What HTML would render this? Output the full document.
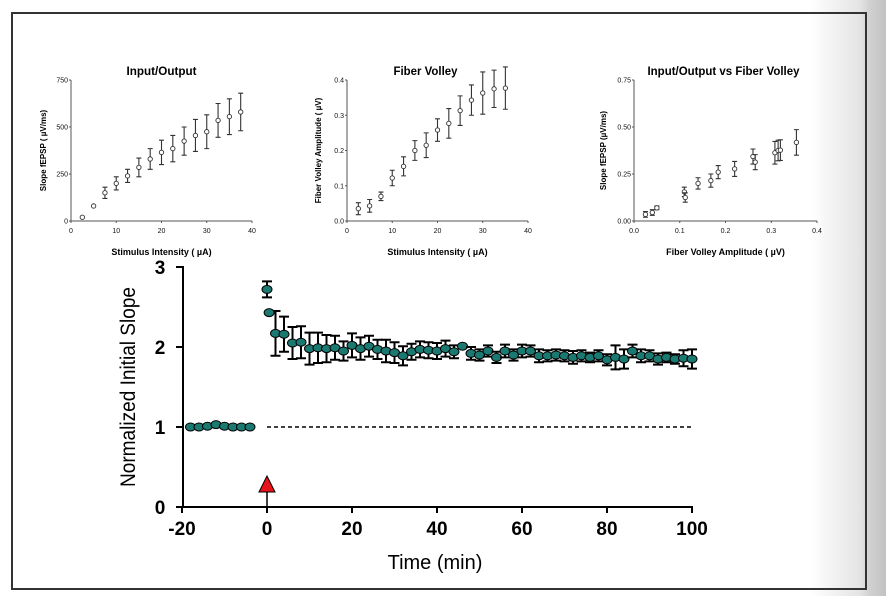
<!DOCTYPE html>
<html><head><meta charset="utf-8"><style>
html,body{margin:0;padding:0;width:886px;height:596px;overflow:hidden;background:linear-gradient(to right,#fff 0px,#fff 810px,#e4e4e4 860px,#d0d0d0 870px,#c2c2c2 886px);}
svg{position:absolute;left:0;top:0;font-family:"Liberation Sans",sans-serif;}
</style></head><body>
<svg id="svg" width="886" height="596">
<rect x="12" y="13" width="854" height="576" fill="none" stroke="#333" stroke-width="2"/>
<g id="c1"></g>
<g id="c2"></g>
<g id="c3"></g>
<g id="main"></g>
</svg>
<script>
// Input/Output
const ioX=[2.5,5,7.5,10,12.5,15,17.5,20,22.5,25,27.5,30,32.5,35,37.5];
const ioY=[20,80,150,200,240,285,330,365,385,425,455,475,535,555,580];
const ioE=[0,0,30,35,35,50,55,65,70,75,85,90,90,95,100];
// Fiber volley
const fvX=[2.5,5,7.5,10,12.5,15,17.5,20,22.5,25,27.5,30,32.5,35];
const fvY=[0.035,0.043,0.07,0.122,0.155,0.2,0.215,0.258,0.277,0.313,0.343,0.363,0.375,0.377];
const fvE=[0.017,0.018,0.012,0.022,0.027,0.028,0.035,0.032,0.042,0.042,0.043,0.06,0.053,0.06];
// IO vs FV
const ivX=[0.025,0.04,0.05,0.11,0.112,0.14,0.168,0.184,0.22,0.26,0.265,0.308,0.315,0.32,0.355];
const ivY=[0.035,0.045,0.07,0.155,0.125,0.2,0.215,0.26,0.277,0.343,0.313,0.363,0.375,0.377,0.418];
const ivE=[0.015,0.015,0.01,0.025,0.025,0.03,0.035,0.035,0.04,0.04,0.04,0.06,0.055,0.055,0.068];
// Main
const baseT=[-18,-16,-14,-12,-10,-8,-6,-4];
const baseV=[1.0,1.0,1.01,1.03,1.01,1.0,1.0,1.0];
const earlyT=[0,0.5];
const earlyV=[2.72,2.43];
const earlyE=[0.1,0];
const postT=[2,4,6,8,10,12,14,16,18,20,22,24,26,28,30,32,34,36,38,40,42,44,46,48,50,52,54,56,58,60,62,64,66,68,70,72,74,76,78,80,82,84,86,88,90,92,94,96,98,100];
const postV=[2.17,2.16,2.05,2.06,1.98,1.99,1.98,1.99,1.95,2.02,1.98,2.01,1.97,1.95,1.93,1.89,1.94,1.97,1.96,1.95,1.98,1.94,2.01,1.92,1.90,1.95,1.87,1.95,1.90,1.95,1.95,1.89,1.89,1.90,1.89,1.87,1.89,1.87,1.89,1.84,1.87,1.85,1.95,1.89,1.89,1.85,1.87,1.85,1.86,1.85];
const postE=[0.28,0.22,0.2,0.2,0.2,0.19,0.17,0.15,0.12,0.15,0.14,0.13,0.12,0.14,0.13,0.12,0.1,0.1,0.1,0.1,0.1,0.08,0.0,0.08,0.07,0.07,0.07,0.08,0.07,0.08,0.07,0.08,0.07,0.07,0.07,0.08,0.07,0.06,0.07,0.07,0.15,0.12,0.08,0.08,0.07,0.07,0.06,0.06,0.1,0.12];
const smallXTicks=[0,10,20,30,40];
const ioYTicks=[0,250,500,750];
const fvYTicks=["0.0","0.1","0.2","0.3","0.4"];
const ivXTicks=["0.0","0.1","0.2","0.3","0.4"];
const ivYTicks=["0.00","0.25","0.50","0.75"];
const mainXTicks=[-20,0,20,40,60,80,100];
const mainYTicks=[0,1,2,3];

const NS="http://www.w3.org/2000/svg";
function mk(p,tag,at,txt){const e=document.createElementNS(NS,tag);for(const k in at)e.setAttribute(k,at[k]);if(txt!==undefined)e.textContent=txt;p.appendChild(e);return e;}

function small(gid,o){
  const g=document.getElementById(gid);
  const sx=v=>o.x0+(v-o.xmin)/(o.xmax-o.xmin)*(o.x1-o.x0);
  const sy=v=>o.y0-(v-o.ymin)/(o.ymax-o.ymin)*(o.y0-o.y1);
  let e=mk(g,'line',{x1:o.x0,y1:o.y0,x2:o.x1,y2:o.y0,stroke:'#555','stroke-width':1});
  
  
  e=mk(g,'line',{x1:o.x0,y1:o.y0,x2:o.x0,y2:o.y1,stroke:'#555','stroke-width':1});
  
  
  o.xt.forEach(t=>{const x=sx(+t);mk(g,'line',{x1:x,y1:o.y0,x2:x,y2:o.y0+2,stroke:'#555'});
    e=mk(g,'text',{x:x,y:o.y0+12,'font-size':7,'text-anchor':'middle',fill:'#111'},t);
    
    });
  o.yt.forEach(t=>{const y=sy(+t);mk(g,'line',{x1:o.x0-2,y1:y,x2:o.x0,y2:y,stroke:'#555'});
    e=mk(g,'text',{x:o.x0-3,y:y+2.5,'font-size':7,'text-anchor':'end',fill:'#111'},t);
    
    });
  e=mk(g,'text',{x:(o.x0+o.x1)/2+o.tdx,y:75,'font-size':11.5,'font-weight':'bold','text-anchor':'middle',textLength:o.tl,lengthAdjust:'spacingAndGlyphs'},o.title);
  
  
  e=mk(g,'text',{x:(o.x0+o.x1)/2,y:255,'font-size':9,'font-weight':'bold','text-anchor':'middle'},o.xl);
  
  
  const cy=(o.y0+o.y1)/2;
  e=mk(g,'text',{x:o.ylx,y:cy,'font-size':8,'font-weight':'bold','text-anchor':'middle',transform:`rotate(-90 ${o.ylx} ${cy})`},o.yl);
  
  
  o.X.forEach((xv,i)=>{const x=sx(xv),y=sy(o.Y[i]),er=o.E[i];
    if(er>0){const a=sy(o.Y[i]+er),b=sy(o.Y[i]-er);
      e=mk(g,'path',{d:`M${x},${a}V${b}M${x-2.5},${a}h5M${x-2.5},${b}h5`,stroke:'#333','stroke-width':1.1,fill:'none'});
      
      }
    e=mk(g,'circle',{cx:x,cy:y,r:2.2,fill:'#fff',stroke:'#333','stroke-width':0.9});
    
    });
}
small('c1',{x0:71,x1:252,y0:221,y1:80,xmin:0,xmax:40,ymin:0,ymax:750,xt:smallXTicks,yt:ioYTicks,X:ioX,Y:ioY,E:ioE,title:'Input/Output',tl:70,tdx:0,xl:'Stimulus Intensity ( µA)',yl:'Slope fEPSP ( µV/ms)',ylx:46});
small('c2',{x0:347,x1:528,y0:221,y1:80,xmin:0,xmax:40,ymin:0,ymax:0.4,xt:smallXTicks,yt:fvYTicks,X:fvX,Y:fvY,E:fvE,title:'Fiber Volley',tl:64,tdx:-12,xl:'Stimulus Intensity ( µA)',yl:'Fiber Volley Amplitude ( µV)',ylx:321});
small('c3',{x0:634,x1:817,y0:221,y1:80,xmin:0,xmax:0.4,ymin:0,ymax:0.75,xt:ivXTicks,yt:ivYTicks,X:ivX,Y:ivY,E:ivE,title:'Input/Output vs Fiber Volley',tl:152,tdx:-2,xl:'Fiber Volley Amplitude ( µV)',yl:'Slope fEPSP (µV/ms)',ylx:606});

// main chart
(function(){
  const g=document.getElementById('main');
  const sx=t=>267+t*4.25, sy=v=>507-v*80;
  let e=mk(g,'line',{x1:183,y1:507,x2:693,y2:507,stroke:'#000','stroke-width':2});
  
  
  e=mk(g,'line',{x1:183,y1:507,x2:183,y2:266,stroke:'#000','stroke-width':2});
  
  
  mainXTicks.forEach(t=>{const x=sx(t);mk(g,'line',{x1:x,y1:507,x2:x,y2:513,stroke:'#000','stroke-width':2});
    e=mk(g,'text',{x:x,y:535,'font-size':19,'font-weight':'bold','text-anchor':'middle'},t);
    
    });
  mainYTicks.forEach(t=>{const y=sy(t);mk(g,'line',{x1:176,y1:y,x2:183,y2:y,stroke:'#000','stroke-width':2});
    e=mk(g,'text',{x:160,y:y+7,'font-size':19,'font-weight':'bold','text-anchor':'middle'},t);
    
    });
  e=mk(g,'text',{x:435,y:569,'font-size':20,'text-anchor':'middle'},'Time (min)');
  
  
  e=mk(g,'text',{x:135,y:387,'font-size':21,'text-anchor':'middle',transform:'rotate(-90 135 387)',textLength:200,lengthAdjust:'spacingAndGlyphs'},'Normalized Initial Slope');
  
  
  e=mk(g,'line',{x1:sx(0),y1:sy(1),x2:sx(100),y2:sy(1),stroke:'#000','stroke-width':1.5,'stroke-dasharray':'4,3'});
  
  
  e=mk(g,'line',{x1:267,y1:492,x2:267,y2:507,stroke:'#000','stroke-width':1.5});
  
  
  e=mk(g,'polygon',{points:'267,476 259,492 275,492',fill:'#e8141c',stroke:'#000','stroke-width':1});
  
  
  function pts(T,V,E){T.forEach((t,i)=>{const x=sx(t),y=sy(V[i]),er=E?E[i]:0;
    if(er>0){const a=sy(V[i]+er),b=sy(V[i]-er);
      e=mk(g,'path',{d:`M${x},${a}V${b}M${x-5},${a}h10M${x-5},${b}h10`,stroke:'#000','stroke-width':2,fill:'none'});
      
      }
    e=mk(g,'ellipse',{cx:x,cy:y,rx:5,ry:4,fill:'#1a7a72',stroke:'#000','stroke-width':1});
    
    });}
  pts(baseT,baseV,null);
  pts(postT,postV,postE);
  pts(earlyT,earlyV,earlyE);
})();
</script>
</body></html>
